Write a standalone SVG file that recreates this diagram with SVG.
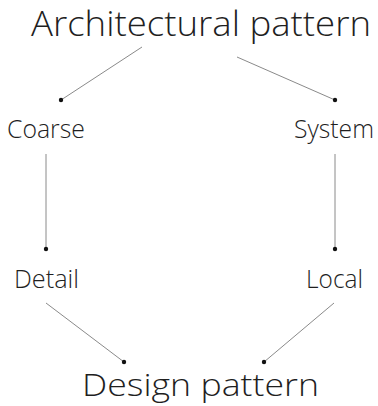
<svg xmlns="http://www.w3.org/2000/svg" width="378" height="406" viewBox="0 0 378 406">
  <style>
    .label { font-family: "Open Sans", "Noto Sans", "Liberation Sans", sans-serif; font-weight: 300; fill: #1f1f1f; }
    .title { font-size: 34px; }
    .footer { font-size: 32px; }
    .small { font-size: 25.5px; }
    .edge { stroke: #8a8a8a; stroke-width: 1; fill: none; }
    .dot { fill: #111; }
  </style>
  <rect width="378" height="406" fill="#ffffff"/>

  <!-- connectors, each ending in a dot at the lower end -->
  <g id="connectors">
    <line class="edge" x1="142" y1="47" x2="61" y2="100"/>
    <circle class="dot" cx="61" cy="100" r="2.2"/>
    <line class="edge" x1="237" y1="57" x2="335" y2="100"/>
    <circle class="dot" cx="335" cy="100" r="2.2"/>
    <line class="edge" x1="46" y1="154" x2="46" y2="249"/>
    <circle class="dot" cx="46" cy="249" r="2.2"/>
    <line class="edge" x1="335" y1="154" x2="335" y2="249"/>
    <circle class="dot" cx="335" cy="249" r="2.2"/>
    <line class="edge" x1="46" y1="303" x2="124" y2="362"/>
    <circle class="dot" cx="124" cy="362" r="2.2"/>
    <line class="edge" x1="334" y1="303" x2="264" y2="362"/>
    <circle class="dot" cx="264" cy="362" r="2.2"/>
  </g>

  <g id="architectural-pattern">
    <text class="label title" x="31" y="36" textLength="340" lengthAdjust="spacingAndGlyphs">Architectural pattern</text>
  </g>
  <g id="coarse">
    <text class="label small" x="7" y="138" textLength="78" lengthAdjust="spacingAndGlyphs">Coarse</text>
  </g>
  <g id="system">
    <text class="label small" x="294" y="138" textLength="80" lengthAdjust="spacingAndGlyphs">System</text>
  </g>
  <g id="detail">
    <text class="label small" x="14" y="288" textLength="65" lengthAdjust="spacingAndGlyphs">Detail</text>
  </g>
  <g id="local">
    <text class="label small" x="306" y="288" textLength="57" lengthAdjust="spacingAndGlyphs">Local</text>
  </g>
  <g id="design-pattern">
    <text class="label footer" x="82" y="396" textLength="237" lengthAdjust="spacingAndGlyphs">Design pattern</text>
  </g>
</svg>
